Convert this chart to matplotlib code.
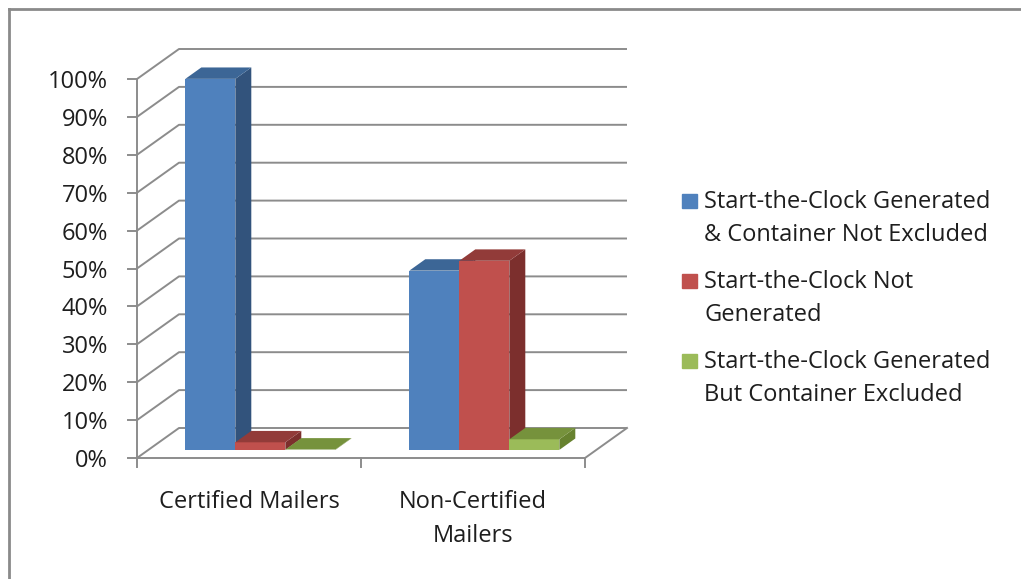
import matplotlib
matplotlib.use("Agg")
import matplotlib.pyplot as plt
from matplotlib.lines import Line2D
from matplotlib.patches import Rectangle

categories = ["Certified Mailers", "Non-Certified\nMailers"]
series = ["Start-the-Clock Generated\n& Container Not Excluded",
          "Start-the-Clock Not\nGenerated",
          "Start-the-Clock Generated\nBut Container Excluded"]
generated_not_excluded = [97.9, 47.3]
not_generated = [2.0, 49.9]
generated_excluded = [0.1, 2.8]
values = [generated_not_excluded, not_generated, generated_excluded]
yticks = list(range(0, 101, 10))

# front, top, side shades per series
colors = [("#4F81BD", "#3C6696", "#32537C"),
          ("#C0504D", "#923B39", "#7C2F2D"),
          ("#9BBB59", "#76923C", "#67822F")]
GRID = "#8C8C8C"
TXT = "#1E1E1E"
FS = 17

W, H = 1021, 579
# pixel anchors of the front plane: x=0 -> 137px, x=2 -> 585px ; y=0 -> 458px, y=100 -> 79px
PX_X = 224.0
PX_Y = 3.79
X0, Y0 = 137, 458
DX, DY = 42 / PX_X, 30 / PX_Y     # oblique depth offset for full depth
D0, D1 = 0.27, 0.65               # bar depth (front, back)
BW = 50 / PX_X                    # bar width
LINE = 34                         # text line pitch, px


def P(x, y, d):
    return x + d * DX, y + d * DY


plt.rcParams["font.family"] = ["Open Sans", "DejaVu Sans"]
fig = plt.figure(figsize=(W / 100, H / 100), dpi=100)
ax = fig.add_axes([0, 0, 1, 1])
ax.set_xlim(-X0 / PX_X, (W - X0) / PX_X)
ax.set_ylim((Y0 - H) / PX_Y, Y0 / PX_Y)
ax.axis("off")

# outer border (top & left visible)
fx, fy = 8.5 / W, 1 - 9 / H
fig.add_artist(Line2D([fx, fx], [0, fy], color="#8A8A8A", lw=2))
fig.add_artist(Line2D([fx, 1], [fy, fy], color="#8A8A8A", lw=2))

ncat = len(categories)
# walls / gridlines
for v in yticks:
    xa, ya = P(0, v, 0)
    xb, yb = P(0, v, 1)
    xc, yc = P(ncat, v, 1)
    ax.plot([xa, xb, xc], [ya, yb, yc], color=GRID, lw=1.4, zorder=1,
            solid_capstyle="butt")
    ax.plot([xa - 0.04, xa], [ya, ya], color=GRID, lw=1.4, zorder=1)
    ax.text(-0.13, v - 0.8, f"{v}%", ha="right", va="center", fontsize=FS, color=TXT)
# vertical axis & floor edges
ax.plot([0, 0], [0, 100], color=GRID, lw=1.4, zorder=1)
fx2, fy2 = P(ncat, 0, 1)
ax.plot([0, ncat, fx2], [0, 0, fy2], color=GRID, lw=1.4, zorder=1)
for i in range(ncat + 1):
    ax.plot([i, i], [0, -2.3], color=GRID, lw=1.4, zorder=1)

# bars
nser = len(values)
for i in range(ncat):
    for j in range(nser):
        v = values[j][i]
        fc, tc, sc = colors[j]
        x0 = i + 0.5 - nser * BW / 2 + j * BW
        x1 = x0 + BW
        bx, by = P(x0, 0, D0)
        ax.bar(bx, v, width=BW, bottom=by, align="edge", color=fc,
               linewidth=0, zorder=3)
        top = [P(x0, v, D0), P(x1, v, D0), P(x1, v, D1), P(x0, v, D1)]
        side = [P(x1, 0, D0), P(x1, v, D0), P(x1, v, D1), P(x1, 0, D1)]
        ax.fill([p[0] for p in side], [p[1] for p in side], color=sc, lw=0, zorder=3)
        ax.fill([p[0] for p in top], [p[1] for p in top], color=tc, lw=0, zorder=3)

# category labels, one baseline per line
for i, c in enumerate(categories):
    for n, line in enumerate(c.split("\n")):
        ax.text(i + 0.5, (Y0 - 508 - n * LINE) / PX_Y, line, ha="center",
                va="baseline", fontsize=FS, color=TXT)

# legend
for k, lab in enumerate(series):
    base = 208 + k * 80
    fig.add_artist(Rectangle((682 / W, 1 - base / H), 15 / W, 14 / H,
                             transform=fig.transFigure, color=colors[k][0]))
    for n, line in enumerate(lab.split("\n")):
        fig.text(704 / W, 1 - (base + n * 33) / H, line, ha="left",
                 va="baseline", fontsize=FS, color=TXT)

fig.savefig("out.png", dpi=100)
